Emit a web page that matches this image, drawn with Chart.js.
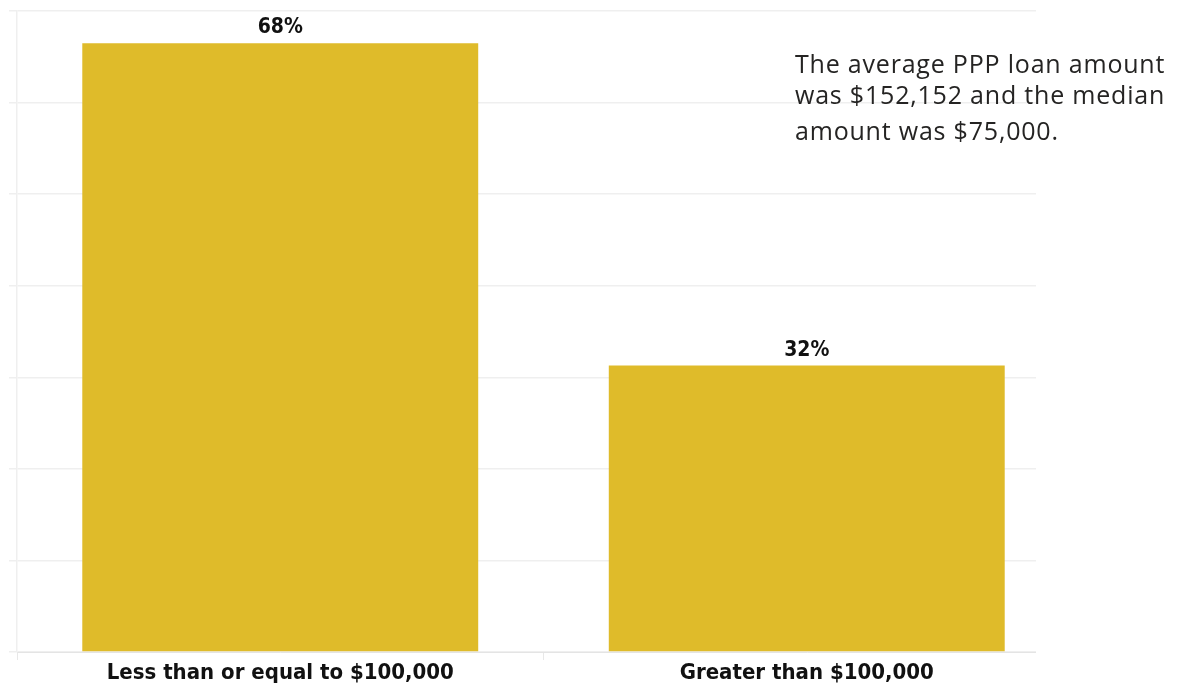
<!DOCTYPE html>
<html>
<head>
<meta charset="utf-8">
<script src="https://cdn.jsdelivr.net/npm/chart.js@4.4.1/dist/chart.umd.min.js"></script>
<style>
  html, body { margin: 0; padding: 0; background: #fff; }
  #wrap { position: relative; width: 1181px; height: 683px; }
  #nota {
    position: absolute; left: 795px; top: 48px;
    font-family: 'Open Sans', sans-serif; font-size: 25px; letter-spacing: 0.8px;
    color: #252423; line-height: 31px; white-space: nowrap;
  }
  #nota span { display: block; }
  #nota span.ultima { margin-top: 5px; }
</style>
</head>
<body>
<div id="wrap">
  <canvas id="grafico" width="1181" height="683"></canvas>
  <div id="nota">
    <span>The average PPP loan amount</span>
    <span>was $152,152 and the median</span>
    <span class="ultima">amount was $75,000.</span>
  </div>
</div>
<script>
// --- Datos ---
const categorias = ['Less than or equal to $100,000', 'Greater than $100,000'];
const porcentajes = [68, 32];
const etiquetas = ['68%', '32%'];

// --- Eje Y ---
const Y_MAX = 71.6;
const N_LINEAS = 7;

const COLOR_BARRA = '#dfbb2a';
const COLOR_GRID = '#efefef';
const FUENTE = "'DejaVu Sans Condensed', 'DejaVu Sans', sans-serif";

// Etiquetas de valor encima de cada barra
const valoresPlugin = {
    id: 'valores',
    afterDatasetsDraw(chart) {
        const ctx = chart.ctx;
        const meta = chart.getDatasetMeta(0);
        ctx.save();
        ctx.fillStyle = '#111';
        ctx.font = 'bold 21px ' + FUENTE;
        ctx.textAlign = 'center';
        ctx.textBaseline = 'alphabetic';
        meta.data.forEach((bar, i) => {
            ctx.fillText(etiquetas[i], bar.x, bar.y - 10);
        });
        ctx.restore();
    }
};

// Las líneas de la cuadrícula terminan antes del final del eje
const recortePlugin = {
    id: 'recorte',
    beforeDatasetsDraw(chart) {
        const ctx = chart.ctx;
        ctx.save();
        ctx.fillStyle = '#fff';
        ctx.fillRect(1036, 0, chart.width - 1036, chart.height);
        ctx.restore();
    }
};

new Chart(document.getElementById('grafico').getContext('2d'), {
    type: 'bar',
    data: {
        labels: categorias,
        datasets: [{
            data: porcentajes,
            backgroundColor: COLOR_BARRA,
            borderWidth: 0,
            barPercentage: 1,
            categoryPercentage: 0.752
        }]
    },
    options: {
        responsive: false,
        animation: false,
        layout: { padding: { left: 9, top: 11, right: 111, bottom: 0 } },
        plugins: {
            legend: { display: false },
            tooltip: { enabled: false }
        },
        scales: {
            x: {
                grid: {
                    display: true,
                    drawOnChartArea: false,
                    drawTicks: true,
                    tickLength: 8,
                    color: '#e8e8e8',
                    offset: true
                },
                border: { display: true, color: '#e4e4e4', dash: [3, 2] },
                ticks: {
                    color: '#111',
                    font: { family: FUENTE, size: 22, weight: 'bold' },
                    padding: 0,
                    maxRotation: 0
                },
                afterFit: (scale) => { scale.height = 31; }
            },
            y: {
                min: 0,
                max: Y_MAX,
                grid: { color: COLOR_GRID, tickLength: 8, lineWidth: 1.5 },
                border: { display: true, color: '#efefef', width: 1.5 },
                ticks: { display: false },
                afterBuildTicks: (scale) => {
                    scale.ticks = [];
                    for (let i = 0; i <= N_LINEAS; i++) {
                        scale.ticks.push({ value: Y_MAX * i / N_LINEAS });
                    }
                }
            }
        }
    },
    plugins: [valoresPlugin, recortePlugin]
});
</script>
</body>
</html>
